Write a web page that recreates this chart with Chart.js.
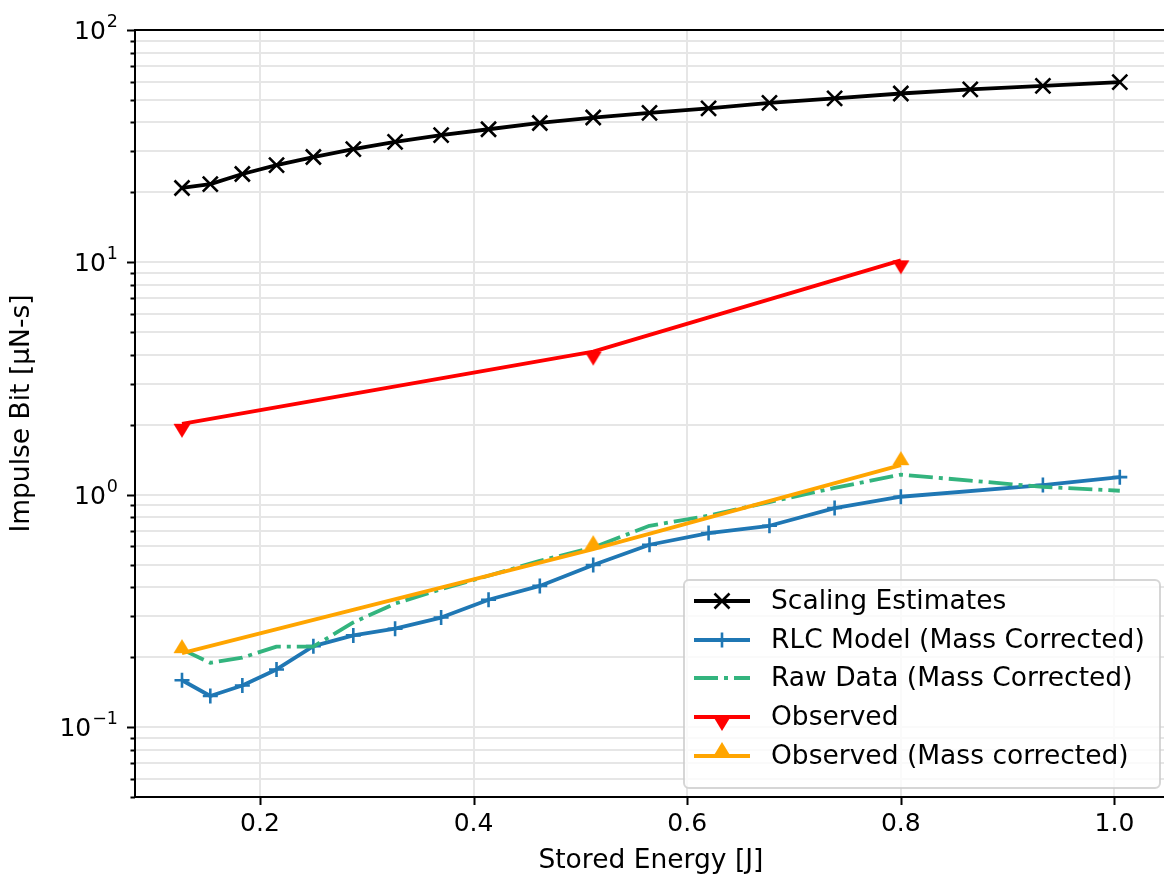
<!DOCTYPE html>
<html>
<head>
<meta charset="utf-8">
<title>Impulse Bit vs Stored Energy</title>
<script src="https://cdn.jsdelivr.net/npm/chart.js@4.4.1/dist/chart.umd.min.js"></script>
<style>
  html, body { margin: 0; padding: 0; background: #fff; overflow: hidden; }
  #wrap { width: 1180px; height: 880px; }
  canvas { display: block; }
</style>
</head>
<body>
<div id="wrap"><canvas id="grafico" width="1180" height="880"></canvas></div>
<script>
// dados (energia em J, impulso em µN-s)
const energiaEscala = [0.127, 0.1535, 0.1835, 0.2155, 0.250, 0.2874, 0.3265, 0.3696, 0.414, 0.462,
                       0.512, 0.5647, 0.620, 0.677, 0.738, 0.800, 0.865, 0.933, 1.005];
const impulsoEscala = [20.9, 21.7, 24.0, 26.2, 28.4, 30.7, 33.0, 35.3, 37.4, 39.8,
                       42.0, 44.0, 46.0, 48.6, 50.8, 53.3, 55.5, 57.5, 59.7];

const energiaRLC = [0.127, 0.1535, 0.1835, 0.2155, 0.250, 0.2874, 0.3265, 0.3696, 0.414, 0.462,
                    0.512, 0.5647, 0.620, 0.677, 0.738, 0.800, 0.933, 1.005];
const impulsoRLC = [0.159, 0.136, 0.151, 0.177, 0.223, 0.248, 0.265, 0.296, 0.353, 0.405,
                    0.498, 0.609, 0.684, 0.735, 0.876, 0.980, 1.10, 1.19];

const energiaBruto = energiaEscala;
const impulsoBruto = [0.216, 0.189, 0.199, 0.222, 0.222, 0.282, 0.340, 0.392, 0.448, 0.519,
                      0.593, 0.735, 0.812, 0.93, 1.07, 1.22, 1.15, 1.08, 1.04];

const energiaObservado = [0.127, 0.512, 0.800];
const impulsoObservado = [2.02, 4.13, 10.2];
const impulsoObservadoCorrigido = [0.208, 0.583, 1.34];

const xTicks = [0.2, 0.4, 0.6, 0.8, 1.0];
const xTickLabels = ['0.2', '0.4', '0.6', '0.8', '1.0'];
const yTicks = [0.1, 1, 10, 100];
const yTickExpoentes = ['\u22121', '0', '1', '2']; // rótulos 10^n

const nomes = ['Scaling Estimates', 'RLC Model (Mass Corrected)', 'Raw Data (Mass Corrected)',
               'Observed', 'Observed (Mass corrected)'];

// junta x e y em pontos
function pontos(xs, ys) {
    return xs.map((x, i) => ({ x: x, y: ys[i] }));
}

// marcador "caret" (base no ponto), como o do matplotlib
function criaCaret(cor, paraBaixo) {
    const c = document.createElement('canvas');
    c.width = 40; c.height = 40;
    const g = c.getContext('2d');
    g.fillStyle = cor;
    g.beginPath();
    if (paraBaixo) {
        g.moveTo(20 - 8.5, 20); g.lineTo(20 + 8.5, 20); g.lineTo(20, 34);
    } else {
        g.moveTo(20 - 8.5, 20); g.lineTo(20 + 8.5, 20); g.lineTo(20, 6);
    }
    g.closePath();
    g.fill();
    return c;
}
const caretBaixo = criaCaret('#ff0000', true);
const caretCima = criaCaret('#ffa500', false);

// posições das linhas de grade (maiores e menores) do eixo log
const yGrade = [];
for (let e = -2; e <= 2; e++) {
    for (let m = 1; m <= 9; m++) {
        const v = m * Math.pow(10, e);
        if (v >= 0.0499 && v <= 100.01) yGrade.push(parseFloat(v.toPrecision(3)));
    }
}
function ehMaior(v) {
    return yTicks.some(t => Math.abs(t - v) / t < 1e-6);
}

const LW = 3.8;
const FONTE_TEXTO = 26.5;

const datasets = [
    {
        label: nomes[0], data: pontos(energiaEscala, impulsoEscala),
        borderColor: '#000000', backgroundColor: '#000000', borderWidth: LW,
        pointStyle: 'crossRot', pointRadius: 10.6, pointBorderWidth: 2.6,
        pointBorderColor: '#000000', order: 5
    },
    {
        label: nomes[1], data: pontos(energiaRLC, impulsoRLC),
        borderColor: '#1f77b4', backgroundColor: '#1f77b4', borderWidth: LW,
        pointStyle: 'cross', pointRadius: 7.5, pointBorderWidth: 2.6,
        pointBorderColor: '#1f77b4', order: 4
    },
    {
        label: nomes[2], data: pontos(energiaBruto, impulsoBruto),
        borderColor: '#33b47e', backgroundColor: '#33b47e', borderWidth: LW,
        borderDash: [24, 6, 4, 6], pointRadius: 0, order: 3
    },
    {
        label: nomes[3], data: pontos(energiaObservado, impulsoObservado),
        borderColor: '#ff0000', backgroundColor: '#ff0000', borderWidth: LW,
        pointStyle: caretBaixo, pointRadius: 9, order: 2
    },
    {
        label: nomes[4], data: pontos(energiaObservado, impulsoObservadoCorrigido),
        borderColor: '#ffa500', backgroundColor: '#ffa500', borderWidth: LW,
        pointStyle: caretCima, pointRadius: 9, order: 1
    }
];

// marcas dos eixos, rótulos 10^n, moldura e legenda desenhadas à mão
const decoracao = {
    id: 'decoracao',
    afterDraw(chart) {
        const { ctx, chartArea: a, scales } = chart;
        const x = scales.x, y = scales.y;
        ctx.save();
        ctx.strokeStyle = '#000';
        ctx.lineWidth = 2;
        ctx.beginPath();
        y.ticks.forEach(t => {
            const py = Math.round(y.getPixelForValue(t.value)) + 0.5;
            const len = ehMaior(t.value) ? 8 : 4.5;
            ctx.moveTo(a.left - len, py); ctx.lineTo(a.left, py);
        });
        x.ticks.forEach(t => {
            const px = Math.round(x.getPixelForValue(t.value)) + 0.5;
            ctx.moveTo(px, a.bottom); ctx.lineTo(px, a.bottom + 8);
        });
        ctx.stroke();
        ctx.strokeRect(a.left, a.top, a.right - a.left, a.bottom - a.top);

        // rótulos do eixo y com expoente
        ctx.fillStyle = '#000';
        ctx.textBaseline = 'alphabetic';
        yTicks.forEach((v, i) => {
            const py = y.getPixelForValue(v);
            const dir = a.left - 17;
            ctx.font = '17.5px "DejaVu Sans"';
            const wExp = ctx.measureText(yTickExpoentes[i]).width;
            ctx.textAlign = 'left';
            ctx.fillText(yTickExpoentes[i], dir - wExp, py - 3);
            ctx.font = '25px "DejaVu Sans"';
            ctx.textAlign = 'right';
            ctx.fillText('10', dir - wExp - 1, py + 9);
        });

        // legenda
        const bx = 684, by = 580, bw = 476, bh = 208, r = 5;
        ctx.beginPath();
        ctx.moveTo(bx + r, by);
        ctx.arcTo(bx + bw, by, bx + bw, by + bh, r);
        ctx.arcTo(bx + bw, by + bh, bx, by + bh, r);
        ctx.arcTo(bx, by + bh, bx, by, r);
        ctx.arcTo(bx, by, bx + bw, by, r);
        ctx.closePath();
        ctx.fillStyle = 'rgba(255,255,255,0.8)';
        ctx.fill();
        ctx.strokeStyle = 'rgba(204,204,204,0.8)';
        ctx.lineWidth = 2;
        ctx.stroke();

        const linhas = [601, 640, 678, 717, 756];
        const x0 = 694, x1 = 750, xm = (x0 + x1) / 2;
        chart.data.datasets.forEach((ds, i) => {
            const ly = linhas[i];
            ctx.save();
            ctx.strokeStyle = ds.borderColor;
            ctx.lineWidth = ds.borderWidth;
            ctx.setLineDash(ds.borderDash || []);
            ctx.beginPath();
            ctx.moveTo(x0, ly); ctx.lineTo(x1, ly);
            ctx.stroke();
            ctx.setLineDash([]);
            ctx.lineWidth = ds.pointBorderWidth || 2;
            if (ds.pointStyle === 'crossRot') {
                const d = ds.pointRadius * Math.SQRT1_2;
                ctx.beginPath();
                ctx.moveTo(xm - d, ly - d); ctx.lineTo(xm + d, ly + d);
                ctx.moveTo(xm - d, ly + d); ctx.lineTo(xm + d, ly - d);
                ctx.stroke();
            } else if (ds.pointStyle === 'cross') {
                const d = ds.pointRadius;
                ctx.beginPath();
                ctx.moveTo(xm - d, ly); ctx.lineTo(xm + d, ly);
                ctx.moveTo(xm, ly - d); ctx.lineTo(xm, ly + d);
                ctx.stroke();
            } else if (ds.pointStyle instanceof HTMLCanvasElement) {
                ctx.drawImage(ds.pointStyle, xm - 20, ly - 20);
            }
            ctx.fillStyle = '#000';
            ctx.font = FONTE_TEXTO + 'px "DejaVu Sans"';
            ctx.textBaseline = 'middle';
            ctx.textAlign = 'left';
            ctx.fillText(ds.label, 771, ly + 1);
            ctx.restore();
        });
        ctx.restore();
    }
};

Chart.defaults.font.family = '"DejaVu Sans", sans-serif';
Chart.defaults.font.size = 25;
Chart.defaults.color = '#000';

new Chart(document.getElementById('grafico'), {
    type: 'line',
    data: { datasets: datasets },
    options: {
        responsive: false,
        animation: false,
        devicePixelRatio: 1,
        layout: { padding: { top: 30, right: 8, left: 0, bottom: 0 } },
        elements: { line: { tension: 0, borderJoinStyle: 'round' } },
        plugins: { legend: { display: false }, tooltip: { enabled: false } },
        scales: {
            x: {
                type: 'linear',
                min: 0.083,
                max: 1.049,
                afterBuildTicks: (s) => { s.ticks = xTicks.map(v => ({ value: v })); },
                afterFit: (s) => { s.height = 83; },
                ticks: {
                    autoSkip: false, maxRotation: 0, padding: 12,
                    callback: (v) => {
                        const i = xTicks.findIndex(t => Math.abs(t - v) < 1e-6);
                        return i >= 0 ? xTickLabels[i] : '';
                    }
                },
                grid: { color: '#e6e6e6', lineWidth: 2, drawTicks: false },
                border: { display: true, color: '#000', width: 2 },
                title: {
                    display: true, text: 'Stored Energy [J]',
                    font: { size: FONTE_TEXTO }, padding: { top: 0, bottom: 3 }
                }
            },
            y: {
                type: 'logarithmic',
                min: 0.05,
                max: 100,
                afterBuildTicks: (s) => { s.ticks = yGrade.map(v => ({ value: v })); },
                afterFit: (s) => { s.width = 135; },
                ticks: { autoSkip: false, padding: 14, callback: () => '' },
                grid: { color: '#e6e6e6', lineWidth: 2, drawTicks: false },
                border: { display: true, color: '#000', width: 2 },
                title: {
                    display: true, text: 'Impulse Bit [\u03BCN-s]',
                    font: { size: FONTE_TEXTO }, padding: { top: 6, bottom: 0 }
                }
            }
        }
    },
    plugins: [decoracao]
});
</script>
</body>
</html>
